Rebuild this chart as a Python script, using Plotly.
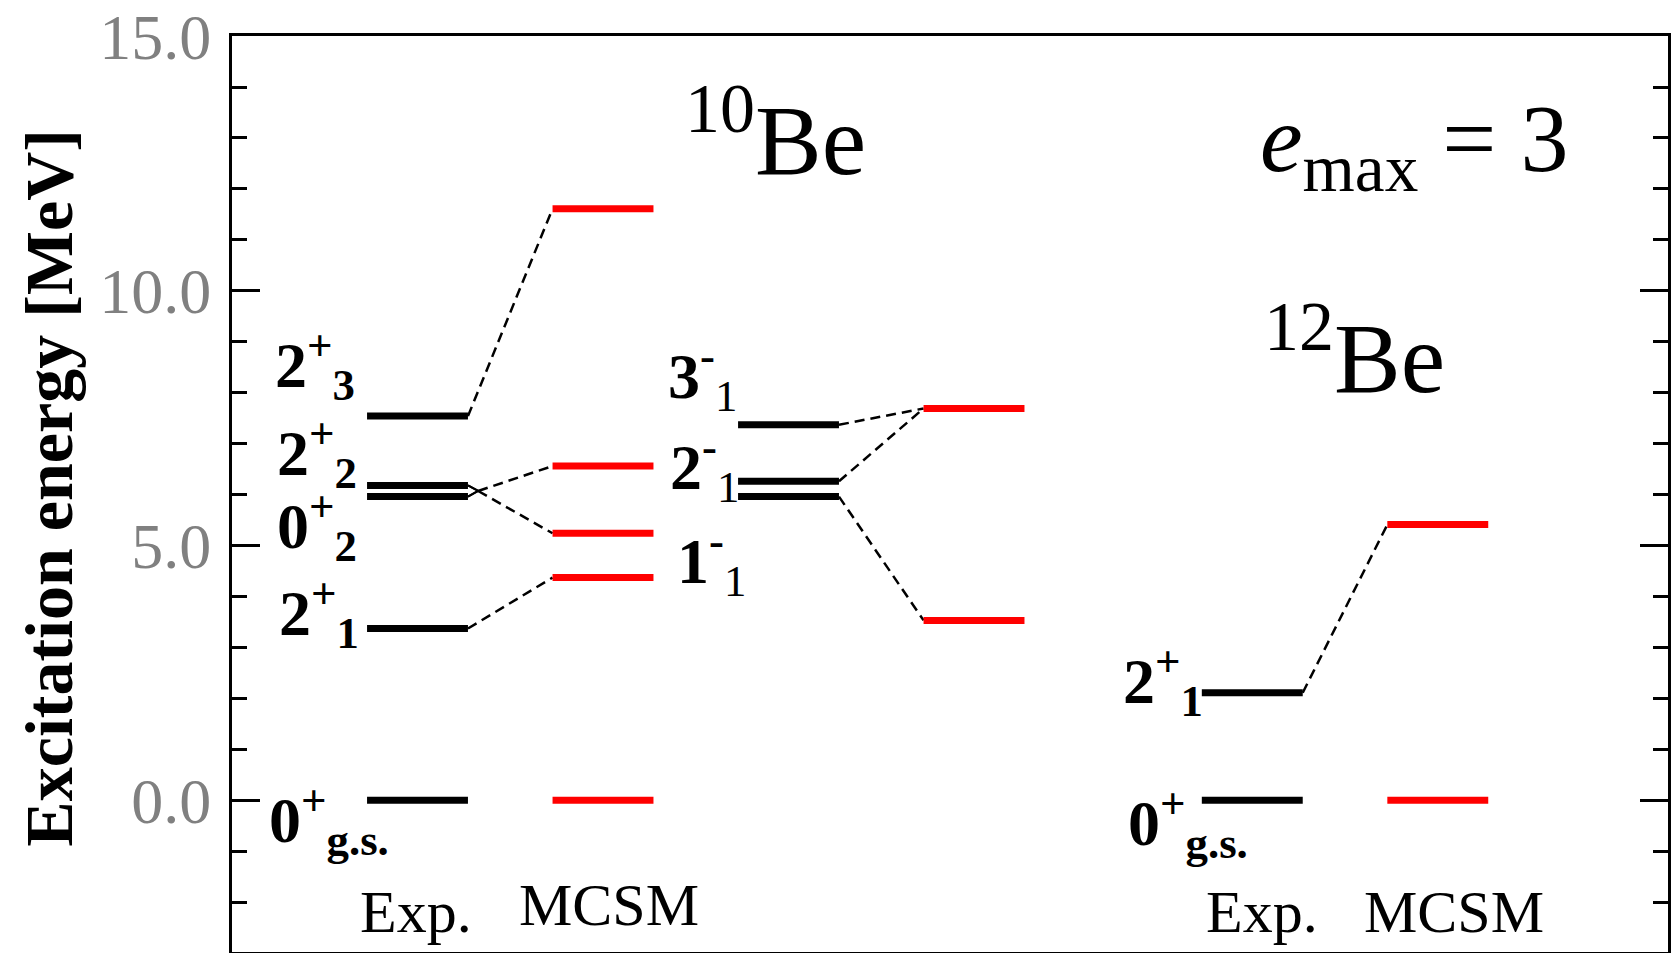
import plotly.graph_objects as go

# ---------------- data (excitation energies in MeV) ----------------
# 10Be positive parity: 0+gs, 2+1, 2+2, 0+2, 2+3
be10_pos_exp = [0.00, 3.37, 5.96, 6.18, 7.54]
be10_pos_mcsm = [0.00, 4.37, 5.24, 6.56, 11.61]
# 10Be negative parity: 1-1, 2-1, 3-1
be10_neg_exp = [5.96, 6.26, 7.37]
be10_neg_mcsm = [3.53, 7.69]
# 12Be: 0+gs, 2+1
be12_exp = [0.00, 2.11]
be12_mcsm = [0.00, 5.41]

# correspondences: (experimental level indices, MCSM level index)
be10_pos_links = [([1], 1), ([2, 3], 3), ([2, 3], 2), ([4], 4)]
be10_neg_links = [([2], 1), ([1], 1), ([0], 0)]
be12_links = [([1], 1)]

# level labels: (main, superscript, subscript)
be10_pos_labels = [("0", "+", "g.s."), ("2", "+", "1"), ("0", "+", "2"), ("2", "+", "2"), ("2", "+", "3")]
be10_neg_labels = [("1", "-", "1"), ("2", "-", "1"), ("3", "-", "1")]
be12_labels = [("0", "+", "g.s."), ("2", "+", "1")]

column_names = ["Exp.", "MCSM"]
y_tick_vals = [0, 5, 10, 15]
y_tick_text = ["0.0", "5.0", "10.0", "15.0"]

# ---------------- layout helpers ----------------
SERIF = "Liberation Serif, Times New Roman, serif"
COL = {"be10_pos_exp": 1.0, "be10_pos_mcsm": 2.0, "be10_neg_exp": 3.0,
       "be10_neg_mcsm": 4.0, "be12_exp": 5.5, "be12_mcsm": 6.5}
HW = 0.272  # half width of a level bar
LW = 7

fig = go.Figure()


def levels(col, energies, color):
    xs, ys = [], []
    c = COL[col]
    for e in energies:
        xs += [c - HW, c + HW, None]
        ys += [e, e, None]
    fig.add_trace(go.Scatter(x=xs, y=ys, mode="lines",
                             line=dict(color=color, width=LW),
                             hoverinfo="skip", showlegend=False))


def links(exp_col, exp_e, th_col, th_e, pairs):
    x0 = COL[exp_col] + HW
    x1 = COL[th_col] - HW
    dx, dy = [], []
    sx, sy = [], []
    for idx, j in pairs:
        if len(idx) == 1:
            start_x, start_y = x0, exp_e[idx[0]]
        else:
            start_x = x0 + 0.055
            start_y = sum(exp_e[i] for i in idx) / len(idx)
            for i in idx:
                sx += [x0, start_x, None]
                sy += [exp_e[i], start_y, None]
        dx += [start_x, x1, None]
        dy += [start_y, th_e[j], None]
    fig.add_trace(go.Scatter(x=dx, y=dy, mode="lines",
                             line=dict(color="black", width=2.5, dash="10px,6px"),
                             hoverinfo="skip", showlegend=False))
    if sx:
        fig.add_trace(go.Scatter(x=sx, y=sy, mode="lines",
                                 line=dict(color="black", width=2),
                                 hoverinfo="skip", showlegend=False))


links("be10_pos_exp", be10_pos_exp, "be10_pos_mcsm", be10_pos_mcsm, be10_pos_links)
links("be10_neg_exp", be10_neg_exp, "be10_neg_mcsm", be10_neg_mcsm, be10_neg_links)
links("be12_exp", be12_exp, "be12_mcsm", be12_mcsm, be12_links)

levels("be10_pos_exp", be10_pos_exp, "black")
levels("be10_pos_mcsm", be10_pos_mcsm, "#ff0000")
levels("be10_neg_exp", be10_neg_exp, "black")
levels("be10_neg_mcsm", be10_neg_mcsm, "#ff0000")
levels("be12_exp", be12_exp, "black")
levels("be12_mcsm", be12_mcsm, "#ff0000")

annotations = []


def label(lbl, x, y, regular_sub=False):
    main, sup, sub = lbl
    sub_txt = f"<span style='font-weight:normal'>{sub}</span>" if regular_sub else sub
    annotations.append(dict(
        x=x, y=y, xref="x", yref="y", xanchor="left", yanchor="middle",
        text=f"{main}<sup>{sup}</sup><sub>{sub_txt}</sub>", showarrow=False,
        font=dict(family=SERIF, size=64, color="black", weight="bold")))


# label placements (x of left edge in axis units, y of centre in MeV)
pos_label_xy = [(0.19, -0.38), (0.245, 3.67), (0.23, 5.39), (0.23, 6.82), (0.22, 8.55)]
for lbl, (x, y) in zip(be10_pos_labels, pos_label_xy):
    label(lbl, x, y)
neg_label_xy = [(2.39, 4.69), (2.35, 6.54), (2.34, 8.32)]
for lbl, (x, y) in zip(be10_neg_labels, neg_label_xy):
    label(lbl, x, y, regular_sub=True)
be12_label_xy = [(4.82, -0.45), (4.79, 2.34)]
for lbl, (x, y) in zip(be12_labels, be12_label_xy):
    label(lbl, x, y)

# column captions
for (xc, yc, name) in [(0.99, -2.2, column_names[0]), (2.03, -2.05, column_names[1]),
                       (5.55, -2.2, column_names[0]), (6.59, -2.2, column_names[1])]:
    annotations.append(dict(x=xc, y=yc, xref="x", yref="y", xanchor="center", yanchor="middle",
                            text=name, showarrow=False,
                            font=dict(family=SERIF, size=60, color="black")))

# nucleus names and e_max
annotations.append(dict(x=2.93, y=13.1, xref="x", yref="y", xanchor="center", yanchor="middle",
                        text="<sup>10</sup>Be", showarrow=False,
                        font=dict(family=SERIF, size=100, color="black")))
annotations.append(dict(x=6.05, y=8.82, xref="x", yref="y", xanchor="center", yanchor="middle",
                        text="<sup>12</sup>Be", showarrow=False,
                        font=dict(family=SERIF, size=100, color="black")))
annotations.append(dict(x=6.37, y=12.85, xref="x", yref="y", xanchor="center", yanchor="middle",
                        text="<i>e</i><sub>max</sub> = 3", showarrow=False,
                        font=dict(family=SERIF, size=96, color="black")))

# y-axis title
annotations.append(dict(x=-0.1274, y=0.507, xref="paper", yref="paper",
                        xanchor="center", yanchor="middle", textangle=-90,
                        text="Excitation energy [MeV]", showarrow=False,
                        font=dict(family=SERIF, size=68, color="black", weight="bold")))

fig.update_layout(
    width=1673, height=953,
    margin=dict(l=232, r=5, t=32, b=1, pad=0),
    paper_bgcolor="white", plot_bgcolor="white",
    showlegend=False,
    annotations=annotations,
    xaxis=dict(range=[0, 7.741], showticklabels=False, ticks="", showgrid=False,
               zeroline=False, showline=True, mirror=True, linewidth=3, linecolor="black",
               fixedrange=True),
    yaxis=dict(range=[-2.98, 15.002], tickvals=y_tick_vals, ticktext=y_tick_text,
               ticks="inside", ticklen=28, tickwidth=3, tickcolor="black",
               minor=dict(dtick=1, tick0=0, ticks="inside", ticklen=15, tickwidth=3,
                          tickcolor="black", showgrid=False),
               showgrid=False, zeroline=False, showline=True, mirror="allticks",
               linewidth=3, linecolor="black",
               tickfont=dict(family=SERIF, size=64, color="#808080"),
               ticklabelstandoff=5, ticklabeloverflow="allow", fixedrange=True),
)

fig.write_html("out.html", config={"displayModeBar": False},
               post_script="document.body.style.margin='0';document.body.style.overflow='hidden';")
